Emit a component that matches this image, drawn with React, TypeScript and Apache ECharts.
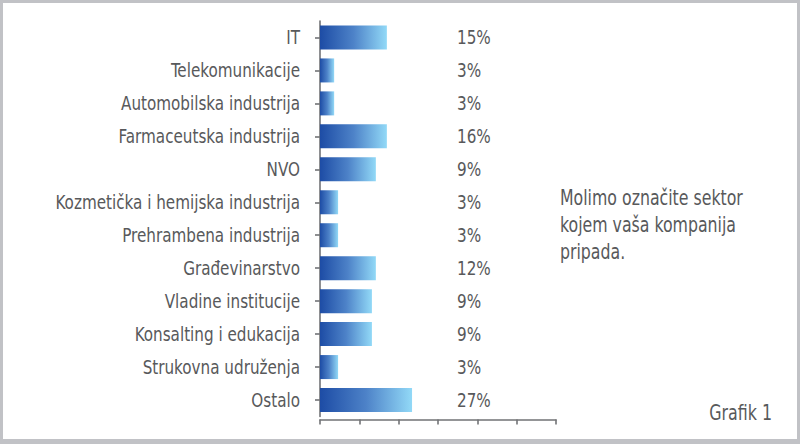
import React, { useEffect, useRef } from "react";
import * as echarts from "echarts";

const categories = [
  "IT",
  "Telekomunikacije",
  "Automobilska industrija",
  "Farmaceutska industrija",
  "NVO",
  "Kozmetička i hemijska industrija",
  "Prehrambena industrija",
  "Građevinarstvo",
  "Vladine institucije",
  "Konsalting i edukacija",
  "Strukovna udruženja",
  "Ostalo",
];
// bar lengths as drawn (axis units, 0..30)
const barValues = [8.5, 1.8, 1.8, 8.5, 7.1, 2.3, 2.3, 7.1, 6.6, 6.6, 2.3, 11.7];
// printed percentages
const percentLabels = ["15%", "3%", "3%", "16%", "9%", "3%", "3%", "12%", "9%", "9%", "3%", "27%"];
const noteLines = ["Molimo označite sektor", "kojem vaša kompanija", "pripada."];
const captionText = "Grafik 1";

const FONT = "'DejaVu Sans Condensed', 'DejaVu Sans', sans-serif";
const TEXT = "#58595b";
const AXIS = "#727376";

export default function App() {
  const ref = useRef<HTMLDivElement>(null);
  useEffect(() => {
    if (!ref.current) return;
    const chart = echarts.init(ref.current, null, { renderer: "svg" });
    const gradient = new echarts.graphic.LinearGradient(0, 0, 1, 0, [
      { offset: 0, color: "#1d4ca5" },
      { offset: 0.5, color: "#4d82c8" },
      { offset: 1, color: "#92d9f7" },
    ]);
    chart.setOption({
      animation: false,
      backgroundColor: "#ffffff",
      textStyle: { fontFamily: FONT },
      grid: { left: 320, top: 21, width: 236, height: 395.5, containLabel: false },
      xAxis: {
        type: "value",
        min: 0,
        max: 30,
        interval: 5,
        offset: 3,
        axisLine: { show: true, lineStyle: { color: AXIS, width: 1.6 } },
        axisTick: { show: true, length: 5, lineStyle: { color: AXIS, width: 1.6 } },
        axisLabel: { show: false },
        splitLine: { show: false },
      },
      yAxis: {
        type: "category",
        inverse: true,
        data: categories,
        axisLine: { show: true, lineStyle: { color: AXIS, width: 1.6 } },
        axisTick: { show: true, alignWithLabel: true, length: 5, lineStyle: { color: AXIS, width: 1.6 } },
        axisLabel: { show: false },
      },
      series: [
        {
          type: "bar",
          data: barValues,
          barWidth: 24,
          itemStyle: { color: gradient },
        },
      ],
    });

    const labelX = 300;
    const pctX = chart.convertToPixel({ xAxisIndex: 0 }, 0) + 137;
    const catTexts = categories.map((c) => {
      const y = chart.convertToPixel({ yAxisIndex: 0 }, c) as number;
      return {
        type: "text",
        x: labelX,
        y: y - 0.5,
        scaleX: 0.845,
        silent: true,
        style: { text: c, fill: TEXT, font: `20px ${FONT}`, align: "right", verticalAlign: "middle" },
      };
    });
    const pctTexts = categories.map((c, i) => {
      const y = chart.convertToPixel({ yAxisIndex: 0 }, c) as number;
      return {
        type: "text",
        x: pctX,
        y: y - 0.5,
        scaleX: 0.845,
        silent: true,
        style: { text: percentLabels[i], fill: TEXT, font: `20px ${FONT}`, align: "left", verticalAlign: "middle" },
      };
    });

    chart.setOption({
      graphic: [
        { type: "rect", z: -10, silent: true, shape: { x: 0, y: 0, width: 800, height: 444 }, style: { fill: "#c1c2c6" } },
        { type: "rect", z: -9, silent: true, shape: { x: 3, y: 3, width: 794, height: 436 }, style: { fill: "#ffffff" } },
        ...catTexts,
        ...pctTexts,
        ...noteLines.map((t, i) => ({
          type: "text",
          x: 560,
          y: 197.5 + i * 27,
          scaleX: 0.835,
          silent: true,
          style: { text: t, fill: TEXT, font: `21px ${FONT}`, align: "left", verticalAlign: "middle" },
        })),
        {
          type: "text",
          x: 772,
          y: 412.5,
          scaleX: 0.84,
          silent: true,
          style: { text: captionText, fill: TEXT, font: `21px ${FONT}`, align: "right", verticalAlign: "middle" },
        },
      ],
    });
    return () => chart.dispose();
  }, []);
  return (
    <div
      ref={ref}
      style={{ position: "fixed", left: 0, top: 0, width: 800, height: 444 }}
    />
  );
}
